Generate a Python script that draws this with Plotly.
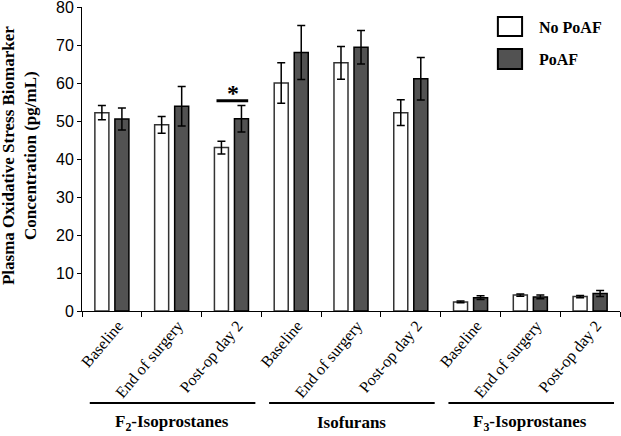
import plotly.graph_objects as go

groups = ["F<sub>2</sub>-Isoprostanes", "Isofurans", "F<sub>3</sub>-Isoprostanes"]
timepoints = ["Baseline", "End of surgery", "Post-op day 2"]

no_poaf = [52.2, 49.0, 43.0, 60.0, 65.3, 52.2, 2.4, 4.2, 3.8]
no_poaf_err = [1.9, 2.2, 1.7, 5.3, 4.3, 3.4, 0.2, 0.3, 0.3]
poaf = [50.5, 53.9, 50.6, 68.0, 69.4, 61.1, 3.5, 3.7, 4.6]
poaf_err = [2.9, 5.2, 3.5, 7.1, 4.4, 5.6, 0.5, 0.5, 0.8]

# significant pair: F2-isoprostanes, post-op day 2
sig_index = 2
sig_level = 55.3

serif = "Liberation Serif, Times New Roman, serif"
sans = "Liberation Sans, Arial, sans-serif"

cats = [f"{g}|{t}" for g in groups for t in timepoints]
tick_text = [t for g in groups for t in timepoints]

fig = go.Figure()
fig.add_trace(go.Bar(
    x=cats, y=no_poaf, name="No PoAF",
    marker=dict(color="white", line=dict(color="#333333", width=1.5)),
    error_y=dict(type="data", array=no_poaf_err, color="black", thickness=1.5, width=4),
))
fig.add_trace(go.Bar(
    x=cats, y=poaf, name="PoAF",
    marker=dict(color="#525252", line=dict(color="black", width=1.5)),
    error_y=dict(type="data", array=poaf_err, color="black", thickness=1.5, width=4),
))

# group brackets and names under the axis
for i, g in enumerate(groups):
    x0 = 3 * i - 0.37
    x1 = min(3 * i + 2.4, 8.5)
    fig.add_shape(type="line", xref="x", yref="paper", x0=x0, x1=x1, y0=-0.303, y1=-0.303,
                  line=dict(color="black", width=2))
    fig.add_annotation(x=3 * i + 1, y=-0.367, xref="x", yref="paper", text=f"<b>{g}</b>",
                       showarrow=False, yanchor="middle",
                       font=dict(family=serif, size=17, color="black"))

# significance marker
fig.add_shape(type="line", xref="x", yref="y", x0=sig_index - 0.25, x1=sig_index + 0.28,
              y0=sig_level, y1=sig_level, line=dict(color="black", width=3))
fig.add_annotation(x=sig_index + 0.02, y=sig_level, xref="x", yref="y", text="<b>*</b>",
                   showarrow=False, yanchor="bottom", yshift=-7,
                   font=dict(family=serif, size=24, color="black"))

# legend drawn by hand to get the large swatches
legend_items = [("No PoAF", "white", 0.967, 0.905, 0.934), ("PoAF", "#525252", 0.862, 0.796, 0.828)]
for name, col, ytop, ybot, ytxt in legend_items:
    fig.add_shape(type="rect", xref="paper", yref="paper", x0=0.773, x1=0.818, y0=ybot, y1=ytop,
                  fillcolor=col, line=dict(color="black", width=2))
    fig.add_annotation(x=0.846, y=ytxt, xref="paper", yref="paper", text=f"<b>{name}</b>",
                       showarrow=False, xanchor="left", yanchor="middle",
                       font=dict(family=serif, size=16, color="black"))

fig.add_annotation(x=-0.115, y=0.51, xref="paper", yref="paper", textangle=-90,
                   text="<b>Plasma Oxidative Stress Biomarker<br>Concentration (pg/mL)</b>",
                   showarrow=False, xanchor="center", yanchor="middle",
                   font=dict(family=serif, size=17, color="black"))

fig.update_layout(
    width=621, height=436,
    margin=dict(l=82, r=1, t=7, b=125),
    plot_bgcolor="white", paper_bgcolor="white",
    barmode="group", bargap=0.33, bargroupgap=0.3,
    showlegend=False,
)
fig.update_xaxes(
    type="category", tickmode="array", tickvals=cats, ticktext=tick_text,
    tickson="boundaries", ticks="outside", ticklen=5, tickcolor="black",
    tickangle=-50, tickfont=dict(family=serif, size=16, color="black"),
    showline=True, linecolor="black", linewidth=1, range=[-0.5, 8.5],
    showgrid=False, automargin=False, ticklabelstandoff=-2, ticklabelshift=6,
)
fig.update_yaxes(
    range=[0, 80], dtick=10, ticks="outside", ticklen=4, tickcolor="black",
    tickfont=dict(family=sans, size=16, color="black"),
    showline=True, linecolor="black", linewidth=1, showgrid=False, zeroline=False,
    automargin=False, ticklabeloverflow="allow",
)

# the page body has a default 8px margin; drop it so the figure fills the window
fig.write_html("out.html", config={"displayModeBar": False},
               post_script="document.body.style.margin='0';")
